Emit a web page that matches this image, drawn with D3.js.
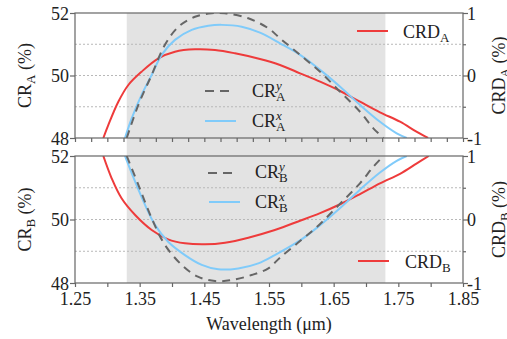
<!DOCTYPE html>
<html><head><meta charset="utf-8">
<script src="https://cdn.jsdelivr.net/npm/d3@7"></script>
<style>
html,body{margin:0;padding:0;background:#fff;}
svg{display:block;font-family:"Liberation Serif","Times New Roman",serif;}
</style></head>
<body><svg id="c" width="507" height="339"></svg>
<script>
// ---- data ----
const xTicks = [1.25, 1.35, 1.45, 1.55, 1.65, 1.75, 1.85];
const leftTicks = [48, 50, 52];
const rightTicks = [-1, 0, 1];
const shadeRange = [1.33, 1.73];

const crAy = [[1.33,48],[1.348,49.06],[1.3686,50.02],[1.389,50.98],[1.41,51.56],[1.4356,51.88],[1.4613,51.99],[1.482,51.99],[1.518,51.83],[1.549,51.51],[1.567,51.19],[1.598,50.66],[1.629,50.12],[1.66,49.48],[1.6907,48.84],[1.7113,48.31],[1.727,48.0]];
const crAx = [[1.3273,48],[1.3377,48.63],[1.353,49.38],[1.3686,50.02],[1.384,50.66],[1.4046,51.14],[1.4305,51.46],[1.4561,51.59],[1.4768,51.62],[1.5078,51.56],[1.536,51.37],[1.567,51.03],[1.598,50.66],[1.629,50.18],[1.66,49.64],[1.6907,49.06],[1.7216,48.52],[1.7475,48.15],[1.763,48.0]];
const crdA = [[1.2938,-1],[1.3016,-0.79],[1.317,-0.42],[1.3325,-0.152],[1.353,0.061],[1.379,0.275],[1.4046,0.381],[1.4356,0.419],[1.4665,0.408],[1.4974,0.355],[1.536,0.264],[1.567,0.168],[1.598,0.035],[1.629,-0.099],[1.66,-0.248],[1.6907,-0.419],[1.7216,-0.589],[1.7526,-0.739],[1.778,-0.899],[1.796,-1]];

const crBy = [[1.33,52],[1.348,51.09],[1.3686,50.04],[1.389,49.2],[1.415,48.57],[1.44,48.2],[1.4665,48.06],[1.492,48.09],[1.523,48.25],[1.549,48.46],[1.567,48.8],[1.598,49.32],[1.629,49.86],[1.66,50.5],[1.6907,51.14],[1.7113,51.66],[1.727,52]];
const crBx = [[1.3273,52],[1.343,51.19],[1.3583,50.46],[1.3737,49.83],[1.394,49.3],[1.42,48.88],[1.446,48.57],[1.4716,48.43],[1.5025,48.46],[1.5335,48.62],[1.559,48.88],[1.598,49.34],[1.629,49.82],[1.66,50.36],[1.6907,50.94],[1.7216,51.48],[1.7475,51.85],[1.763,52]];
const crdB = [[1.2938,1],[1.3067,0.649],[1.322,0.334],[1.343,0.071],[1.3686,-0.165],[1.394,-0.312],[1.42,-0.375],[1.451,-0.391],[1.482,-0.365],[1.518,-0.286],[1.559,-0.165],[1.598,-0.02],[1.629,0.1],[1.66,0.24],[1.6907,0.4],[1.7216,0.57],[1.7526,0.72],[1.778,0.88],[1.797,1]];

// ---- style ----
const RED = "#ee3b3b", BLUE = "#80cbfa", DASH = "#666666", AX = "#666", SHADE = "#e3e3e3", GRID = "#b8b8b8";
const FS = 18;

const svg = d3.select("#c");
const L = 75, R = 463;
const panels = [
  {top:13, bottom:138, l:crAx, d:crAy, r:crdA, sub:"A", xMinor:0.025, showXLabels:false},
  {top:156, bottom:283, l:crBx, d:crBy, r:crdB, sub:"B", xMinor:0.05, showXLabels:true}
];
const x = d3.scaleLinear([1.25, 1.85], [L, R]);

// shaded band
svg.append("rect").attr("x", x(shadeRange[0])).attr("y", panels[0].top)
  .attr("width", x(shadeRange[1]) - x(shadeRange[0])).attr("height", panels[1].bottom - panels[0].top)
  .attr("fill", SHADE);

panels.forEach((p, i) => {
  const yL = d3.scaleLinear([48, 52], [p.bottom, p.top]);
  const yR = d3.scaleLinear([-1, 1], [p.bottom, p.top]);
  const g = svg.append("g");
  const cid = "clip" + i;
  svg.append("clipPath").attr("id", cid).append("rect")
    .attr("x", L).attr("y", p.top).attr("width", R - L).attr("height", p.bottom - p.top);

  // grid
  g.selectAll(".grid").data([49, 50, 51]).join("line")
    .attr("x1", L).attr("x2", R).attr("y1", d => yL(d)).attr("y2", d => yL(d))
    .attr("stroke", GRID).attr("stroke-width", 1).attr("stroke-dasharray", "2,2");

  const lineL = d3.line().x(d => x(d[0])).y(d => yL(d[1])).curve(d3.curveCatmullRom);
  const lineR = d3.line().x(d => x(d[0])).y(d => yR(d[1])).curve(d3.curveCatmullRom);
  const cg = g.append("g").attr("clip-path", `url(#${cid})`);
  cg.append("path").attr("d", lineR(p.r)).attr("fill", "none").attr("stroke", RED).attr("stroke-width", 2);
  cg.append("path").attr("d", lineL(p.l)).attr("fill", "none").attr("stroke", BLUE).attr("stroke-width", 2);
  cg.append("path").attr("d", lineL(p.d)).attr("fill", "none").attr("stroke", DASH).attr("stroke-width", 2).attr("stroke-dasharray", "8,6");

  // frame
  g.append("rect").attr("x", L).attr("y", p.top).attr("width", R - L).attr("height", p.bottom - p.top)
    .attr("fill", "none").attr("stroke", AX).attr("stroke-width", 1.2);

  // axes
  const ax = d3.axisLeft(yL).tickValues(leftTicks).tickSize(5).tickFormat(d3.format("d"));
  const ga = g.append("g").attr("transform", `translate(${L},0)`).call(ax);
  const ar = d3.axisRight(yR).tickValues(rightTicks).tickSize(5).tickFormat(d => d < 0 ? "-" + Math.abs(d) : d);
  const gr = g.append("g").attr("transform", `translate(${R},0)`).call(ar);
  const arm = d3.axisRight(yR).tickValues([-0.5, 0.5]).tickSize(3).tickFormat("");
  const grm = g.append("g").attr("transform", `translate(${R},0)`).call(arm);
  const xt = d3.range(0, 25).map(k => 1.25 + k * p.xMinor).filter(v => v <= 1.8501);
  const axb = d3.axisBottom(x).tickValues(xt).tickSize(4).tickFormat(p.showXLabels ? (d => {
    const s = d.toFixed(2); return xTicks.some(t => Math.abs(t - d) < 1e-6) ? s : "";
  }) : "");
  const gb = g.append("g").attr("transform", `translate(0,${p.bottom})`).call(axb);
  [ga, gr, grm, gb].forEach(s => {
    s.select(".domain").remove();
    s.selectAll("line").attr("stroke", AX).attr("stroke-width", 1.2);
    s.selectAll("text").attr("font-family", "Liberation Serif, serif").attr("font-size", FS).attr("fill", "#222");
  });
  ga.selectAll("text").attr("x", -6).attr("dy", "0.34em");
  gr.selectAll("text").attr("x", 4).attr("dy", "0.34em");
  gb.selectAll("text").attr("y", 9).attr("dy", "0.71em");

  // axis titles
  const ymid = (p.top + p.bottom) / 2;
  const tl = svg.append("text").attr("transform", `translate(31,${ymid}) rotate(-90)`)
    .attr("text-anchor", "middle").attr("font-size", FS).attr("fill", "#222");
  tl.append("tspan").text("CR");
  tl.append("tspan").attr("font-size", 13).attr("dy", 4).text(p.sub);
  tl.append("tspan").attr("dy", -4).text(" (%)");
  const tr = svg.append("text").attr("transform", `translate(505,${ymid}) rotate(-90)`)
    .attr("text-anchor", "middle").attr("font-size", FS).attr("fill", "#222");
  tr.append("tspan").text("CRD");
  tr.append("tspan").attr("font-size", 13).attr("dy", 4).text(p.sub);
  tr.append("tspan").attr("dy", -4).text(" (%)");
});

// legends
function crLabel(xp, yb, sup, sub) {
  const t = svg.append("text").attr("x", xp).attr("y", yb).attr("font-size", FS).attr("fill", "#222");
  t.append("tspan").text("CR");
  const s1 = t.append("tspan").attr("font-size", 13).attr("font-style", "italic").attr("dy", -7).text(sup);
  const w = s1.node().getComputedTextLength();
  t.append("tspan").attr("font-size", 13).attr("dx", -w).attr("dy", 11).text(sub);
}
function crdLabel(xp, yb, sub) {
  const t = svg.append("text").attr("x", xp).attr("y", yb).attr("font-size", FS).attr("fill", "#222");
  t.append("tspan").text("CRD");
  t.append("tspan").attr("font-size", 13).attr("dy", 4).text(sub);
}
function legLine(x1, x2, y, color, dash) {
  const l = svg.append("line").attr("x1", x1).attr("x2", x2).attr("y1", y).attr("y2", y)
    .attr("stroke", color).attr("stroke-width", 2);
  if (dash) l.attr("stroke-dasharray", "9,6");
}
legLine(205, 234, 91, DASH, true); crLabel(252, 97, "y", "A");
legLine(205, 236, 121, BLUE, false); crLabel(252, 127, "x", "A");
legLine(208, 238, 173, DASH, true); crLabel(255, 178, "y", "B");
legLine(209, 240, 202, BLUE, false); crLabel(255, 208, "x", "B");
legLine(357, 388, 31, RED, false); crdLabel(403, 38, "A");
legLine(358, 389, 261, RED, false); crdLabel(405, 268, "B");

// x title
svg.append("text").attr("x", (L + R) / 2).attr("y", 330).attr("text-anchor", "middle")
  .attr("font-size", FS).attr("fill", "#222").text("Wavelength (μm)");
</script></body></html>
